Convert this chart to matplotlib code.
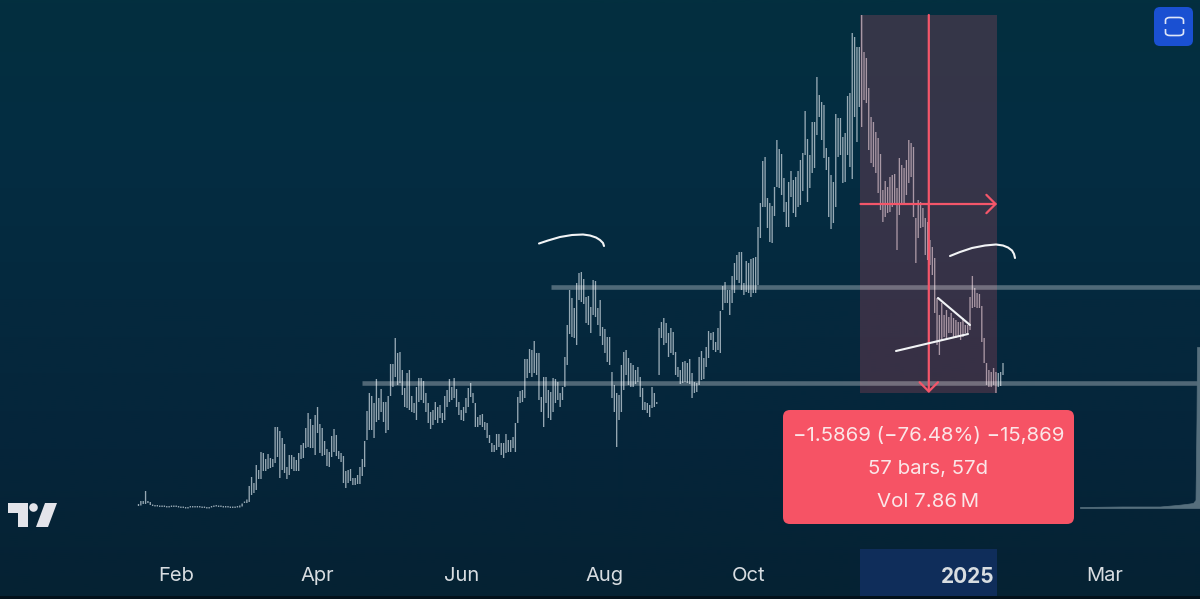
import matplotlib
matplotlib.use("Agg")
import matplotlib.pyplot as plt
import numpy as np
import pandas as pd
from matplotlib.colors import LinearSegmentedColormap
from matplotlib.patches import FancyBboxPatch, PathPatch, Polygon, Circle, Rectangle
from matplotlib.path import Path

bar_high = [
    504, 501, 501, 491, 501, 502, 504.5, 505, 505, 505.5,
    505.5, 505.5, 506, 506, 505.5, 505.5, 505.5, 506, 506.5, 506.5,
    507, 507, 506, 506, 506, 506, 506, 506.5, 506.5, 507,
    507, 506, 505.5, 505, 505.5, 505.5, 506, 506, 506, 506.5,
    506.5, 506.5, 506, 505.5, 503.5, 501.5, 499.5, 486, 477, 483,
    465, 470, 452, 453, 459, 454, 458, 459, 427, 427,
    431, 438, 444, 467, 455, 455, 457, 460, 453, 445,
    443, 428, 413, 419, 425, 415, 407, 424, 428, 441,
    449, 452, 436, 429, 435, 451, 453, 456, 471, 470,
    469, 478, 478, 475, 467, 459, 441, 411, 393, 396,
    403, 379, 398, 389, 402, 402, 396, 364, 364, 338,
    353, 352, 370, 388, 373, 370, 396, 403, 387, 378,
    378, 381, 393, 403, 412, 410, 402, 407, 405, 413,
    396, 390, 379, 387, 378, 389, 402, 410, 407, 398,
    388, 383, 393, 403, 417, 415, 414, 422, 423, 435,
    443, 445, 434, 434, 443, 443, 434, 440, 440, 437,
    423, 397, 391, 390, 359, 359, 349, 350, 341, 353,
    353, 397, 377, 377, 390, 392, 378, 379, 382, 393,
    387, 357, 325, 290, 298, 308, 283, 273, 272, 279,
    297, 296, 307, 280, 281, 308, 300, 327, 329, 337,
    337, 372, 385, 393, 395, 365, 352, 350, 358, 363,
    365, 370, 367, 377, 388, 402, 403, 405, 387, 393,
    402, 328, 322, 318, 323, 333, 328, 332, 352, 367,
    370, 362, 361, 363, 359, 373, 382, 383, 357, 351,
    358, 347, 331, 333, 332, 342, 328, 311, 286, 282,
    290, 290, 276, 263, 255, 252, 252, 283, 261, 263,
    259, 258, 257, 227, 203, 161, 157, 198, 203, 206,
    187, 140, 149, 154, 178, 202, 182, 171, 180, 177,
    171, 160, 153, 111, 139, 155, 122, 122, 77, 95,
    102, 105, 148, 157, 175, 182, 114, 118, 118, 137,
    133, 96, 93, 33, 37, 47, 47, 15, 52, 58,
    88, 117, 122, 132, 138, 154, 190, 181, 187, 177,
    175, 174, 188, 158, 165, 168, 160, 140, 143, 147,
    218, 200, 202, 208, 218, 222, 240, 247, 258, 298,
    315, 303, 315, 310, 317, 313, 318, 320, 322, 322,
    318, 325, 325, 297, 276, 288, 293, 294, 306, 338,
    363, 370, 372, 368, 372, 373, 372, 363,
]
bar_low = [
    506, 505.5, 504, 504, 503, 505, 506, 506.5, 506.5, 507,
    507, 507, 507.5, 507.5, 507, 507, 507, 507.5, 508, 508,
    508.5, 508.5, 507.5, 507.5, 507.5, 507.5, 507.5, 508, 508, 508.5,
    508.5, 507.5, 507, 506.5, 507, 507, 507.5, 507.5, 507.5, 508,
    508, 508, 507.5, 507.5, 506.5, 503, 503, 502, 495, 493,
    490, 479, 479, 471, 471, 469, 468, 467, 463, 457,
    478, 470, 473, 479, 475, 469, 471, 471, 471, 459,
    458, 448, 447, 448, 448, 455, 433, 453, 456, 455,
    466, 467, 457, 452, 456, 459, 462, 483, 488, 483,
    481, 485, 485, 484, 484, 476, 467, 440, 430, 430,
    438, 422, 420, 412, 422, 433, 430, 396, 387, 377,
    385, 383, 395, 407, 408, 410, 412, 413, 420, 402,
    400, 403, 412, 423, 429, 425, 420, 423, 418, 423,
    420, 407, 402, 400, 398, 407, 415, 420, 421, 413,
    407, 397, 403, 427, 427, 425, 427, 430, 438, 443,
    452, 452, 450, 447, 455, 458, 453, 452, 452, 448,
    452, 423, 403, 402, 398, 378, 373, 377, 373, 375,
    400, 412, 427, 403, 418, 420, 412, 403, 400, 407,
    400, 387, 365, 334, 337, 338, 345, 300, 302, 304,
    323, 325, 333, 315, 317, 325, 336, 345, 353, 362,
    365, 398, 412, 447, 420, 412, 390, 375, 385, 387,
    387, 384, 382, 397, 410, 410, 413, 417, 408, 407,
    404, 375, 338, 345, 343, 357, 353, 355, 375, 377,
    384, 383, 382, 383, 384, 398, 393, 392, 385, 380,
    379, 367, 358, 340, 350, 352, 350, 353, 310, 303,
    303, 315, 303, 293, 280, 283, 290, 295, 292, 293,
    297, 293, 293, 285, 238, 207, 207, 228, 242, 243,
    216, 187, 188, 195, 212, 227, 227, 197, 213, 217,
    207, 205, 191, 155, 202, 188, 173, 168, 135, 117,
    140, 158, 170, 217, 229, 223, 207, 157, 155, 183,
    182, 155, 167, 179, 117, 142, 107, 127, 100, 103,
    150, 163, 167, 173, 193, 210, 222, 217, 213, 212,
    207, 203, 250, 215, 203, 203, 195, 183, 177, 217,
    263, 238, 228, 227, 255, 260, 265, 275, 313, 345,
    355, 340, 337, 340, 333, 333, 337, 338, 337, 340,
    337, 333, 333, 330, 308, 307, 308, 308, 342, 363,
    385, 387, 387, 385, 393, 387, 386, 375,
]
first_day = "2024-01-16"

tick_days = ["2024-02-01", "2024-04-01", "2024-06-01", "2024-08-01", "2024-10-01", "2025-01-02", "2025-03-01"]
tick_labels = ["Feb", "Apr", "Jun", "Aug", "Oct", "2025", "Mar"]

level_values = [286.5, 383]
level_from = ["2024-07-09", "2024-04-20"]

range_start = "2024-11-17 12:00"
range_end = "2025-01-14 12:00"
range_mid = "2024-12-16 12:00"
range_top = 15
range_bottom = 393
range_mid_level = 204

label_lines = ["\u22121.5869 (\u221276.48%) \u221215,869", "57 bars, 57d", "Vol 7.86\u2009M"]

vol_x = [1080, 1122, 1160, 1177, 1186, 1193, 1195.5, 1196.5, 1197, 1200]
vol_top = [507, 506.5, 506.5, 505, 504, 503, 500, 420, 347, 347]

BG_STOPS = ["#032f3f", "#042d42", "#05293e", "#05253a", "#052233"]
RED = "#f4566a"
TEXT = "#d8dde1"


def plot_chart():
    plt.rcParams["font.family"] = ["Inter", "DejaVu Sans"]

    fig = plt.figure(figsize=(12, 5.99), dpi=100)

    # background gradient
    bg = fig.add_axes([0, 0, 1, 1])
    cmap = LinearSegmentedColormap.from_list("bg", BG_STOPS)
    bg.imshow(np.linspace(0, 1, 300).reshape(-1, 1), cmap=cmap, aspect="auto")
    bg.axis("off")

    # price axes stops where the time scale begins
    ax = fig.add_axes([0, 50 / 599, 1, 549 / 599])
    ax.patch.set_alpha(0)
    ax.set_ylim(549, 0)

    dates = pd.date_range(first_day, periods=len(bar_high))
    px_per_day = (1003 - 138.5) / (len(bar_high) - 1)
    ax.set_xlim(
        dates[0] - pd.Timedelta(days=138.5 / px_per_day),
        dates[0] + pd.Timedelta(days=(1200 - 138.5) / px_per_day),
    )

    bars = ax.vlines(dates, bar_high, bar_low, color="#bccad3", linewidth=0.95, alpha=0.8, zorder=2)
    bars.set_snap(False)

    for level, start in zip(level_values, level_from):
        ax.hlines(level, pd.Timestamp(start), ax.get_xlim()[1], color="#ffffff", alpha=0.3, linewidth=3.3, zorder=3)

    # measure range
    r0 = pd.Timestamp(range_start)
    r1 = pd.Timestamp(range_end)
    rm = pd.Timestamp(range_mid)
    x0 = matplotlib.dates.date2num(r0)
    width = matplotlib.dates.date2num(r1) - x0
    ax.add_patch(
        Rectangle(
            (x0, range_top),
            width,
            range_bottom - range_top,
            facecolor=RED,
            alpha=0.21,
            edgecolor="none",
            zorder=2.5,
        )
    )
    arrow = dict(arrowstyle="->,head_length=0.55,head_width=0.55", color=RED, lw=1.6, shrinkA=0, shrinkB=0, mutation_scale=12)
    ax.annotate("", xy=(rm, range_bottom), xytext=(rm, range_top), arrowprops=arrow, zorder=5)
    ax.annotate("", xy=(r1, range_mid_level), xytext=(r0, range_mid_level), arrowprops=arrow, zorder=5)

    # highlighted part of the time scale
    ax.add_patch(
        Rectangle(
            (x0, 0),
            width,
            -50 / 549,
            transform=ax.get_xaxis_transform(),
            facecolor="#0f2d5a",
            edgecolor="none",
            clip_on=False,
            zorder=1,
        )
    )

    ax.set_xticks([pd.Timestamp(d) for d in tick_days])
    ax.set_xticklabels(tick_labels, fontsize=14.5, color=TEXT)
    ax.get_xticklabels()[5].set_fontweight("bold")
    ax.get_xticklabels()[5].set_fontsize(15)
    ax.tick_params(axis="x", length=0, pad=13)
    ax.set_yticks([])
    for spine in ax.spines.values():
        spine.set_visible(False)

    # things placed on the screen, not on the chart scales
    ov = fig.add_axes([0, 0, 1, 1])
    ov.patch.set_alpha(0)
    ov.set_xlim(0, 1200)
    ov.set_ylim(599, 0)
    ov.axis("off")

    ov.fill_between(vol_x, vol_top, 508, color="#566f7d", linewidth=0.5, zorder=2)

    # hand drawn strokes
    strokes = [
        ([539, 548, 560, 572, 583, 590, 596, 600, 603, 604], [243.5, 240.5, 237, 235, 234.5, 235.5, 237.5, 240, 243, 246]),
        ([950, 960, 972, 985, 996, 1003, 1008, 1012, 1014, 1015], [256, 252, 248, 245.5, 244.5, 245.5, 247.5, 250.5, 254, 258]),
        ([938, 970], [298, 325]),
        ([896, 968], [351, 334]),
    ]
    for xs, ys in strokes:
        ov.plot(xs, ys, color="#f2f4f6", lw=1.5, solid_capstyle="round", zorder=6)

    # measure label
    ov.add_patch(
        FancyBboxPatch(
            (789, 416), 279, 102,
            boxstyle="round,pad=6,rounding_size=7",
            facecolor="#f65365",
            edgecolor="none",
            zorder=7,
        )
    )
    for text, y in zip(label_lines, [436, 469, 502]):
        ov.text(928.5, y, text, ha="center", va="center", color="#fbe6e8", fontsize=14.7, zorder=8)

    # logo
    logo = "#e3e4ea"
    ov.add_patch(Polygon([(8, 503), (28, 503), (28, 527), (18, 527), (18, 513), (8, 513)], facecolor=logo, edgecolor="none"))
    ov.add_patch(Circle((33.5, 507.5), 4.3, facecolor=logo, edgecolor="none"))
    ov.add_patch(Polygon([(45, 503), (57, 503), (48, 527), (36, 527)], facecolor=logo, edgecolor="none"))

    # button top right
    ov.add_patch(
        FancyBboxPatch(
            (1160, 13), 27, 27,
            boxstyle="round,pad=6,rounding_size=6",
            facecolor="#1a50d2",
            edgecolor="none",
        )
    )
    for y0, y1 in [(24, 17.5), (29, 35.5)]:
        codes = [Path.MOVETO, Path.LINETO, Path.CURVE3, Path.CURVE3, Path.LINETO, Path.CURVE3, Path.CURVE3, Path.LINETO]
        mid = y1 + (y0 - y1) * 0.45
        verts = [(1165.5, y0), (1165.5, mid), (1165.5, y1), (1170, y1), (1179, y1), (1183.5, y1), (1183.5, mid), (1183.5, y0)]
        ov.add_patch(PathPatch(Path(verts, codes), facecolor="none", edgecolor="#dfe6f8", lw=1.2))

    # dark strip at the very bottom of the screenshot
    ov.add_patch(Rectangle((0, 596), 1200, 3, facecolor="#03111b", edgecolor="none"))

    plt.savefig("out.png", dpi=100)
    plt.close()


if __name__ == "__main__":
    plot_chart()
